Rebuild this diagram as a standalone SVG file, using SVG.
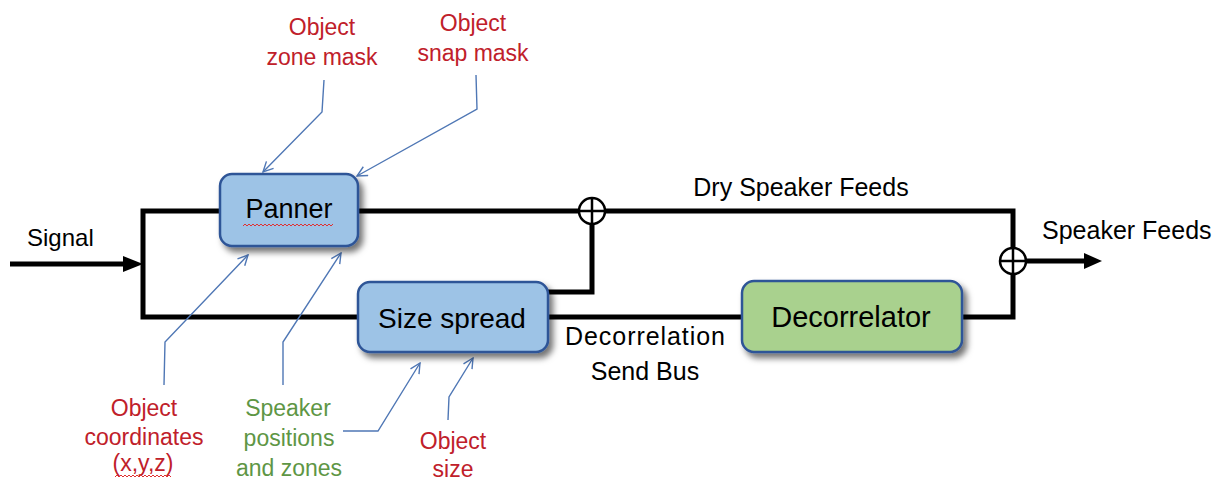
<svg xmlns="http://www.w3.org/2000/svg" width="1222" height="482" viewBox="0 0 1222 482">
<defs>
<style>
.wire{fill:none;stroke:#000;stroke-width:5;stroke-linejoin:miter;stroke-linecap:butt}
.call{fill:none;stroke:#4F77B5;stroke-width:1.4}
.box{stroke:#2F5597;stroke-width:2.5}
.blue{fill:#9DC3E6}
.green{fill:#A9D18E}
.t{font-family:"Liberation Sans",Arial,sans-serif;fill:#000}
.red{font-family:"Liberation Sans",Arial,sans-serif;fill:#C0202A;font-size:23px;text-anchor:middle}
.grn{font-family:"Liberation Sans",Arial,sans-serif;fill:#5E9645;font-size:23px;text-anchor:middle}
.sum{fill:#fff;stroke:#000;stroke-width:2.5}
.cross{stroke:#000;stroke-width:2.5}
.squig{fill:none;stroke:#E03030;stroke-width:1}
</style>
<filter id="sh" x="-20%" y="-20%" width="150%" height="160%">
<feDropShadow dx="4" dy="5" stdDeviation="3" flood-color="#000" flood-opacity="0.55"/>
</filter>
<marker id="oa" viewBox="0 0 12 12" refX="11" refY="6" markerWidth="12" markerHeight="12" markerUnits="userSpaceOnUse" orient="auto">
<path d="M1,1 L11,6 L1,11" fill="none" stroke="#4F77B5" stroke-width="1.4"/>
</marker>
</defs>

<g id="connectors">
<line class="wire" x1="10" y1="264" x2="126" y2="264"/>
<polygon points="143,264 123,256 123,272" fill="#000"/>
<path class="wire" d="M220,211 H143 V317 H358"/>
<path class="wire" d="M358,211 H1013 V317 H962"/>
<path class="wire" d="M548,292 H592 V211"/>
<path class="wire" d="M548,317 H742"/>
<line class="wire" x1="1013" y1="261" x2="1087" y2="261"/>
<polygon points="1102,261 1084,253 1084,269" fill="#000"/>
<g id="sum1">
<circle class="sum" cx="592" cy="211" r="13"/>
<line class="cross" x1="579" y1="211" x2="605" y2="211"/>
<line class="cross" x1="592" y1="198" x2="592" y2="224"/>
</g>
<g id="sum2">
<circle class="sum" cx="1013" cy="261" r="13"/>
<line class="cross" x1="1000" y1="261" x2="1026" y2="261"/>
<line class="cross" x1="1013" y1="248" x2="1013" y2="274"/>
</g>
<path class="call" marker-end="url(#oa)" d="M324,80 L322,112 L263,172"/>
<path class="call" marker-end="url(#oa)" d="M476,75 L477,109 L357,176"/>
<path class="call" marker-end="url(#oa)" d="M164,385 L165,342 L248,255"/>
<path class="call" marker-end="url(#oa)" d="M283,385 L283,342 L341,253"/>
<path class="call" marker-end="url(#oa)" d="M343,431 L378,431 L420,363"/>
<path class="call" marker-end="url(#oa)" d="M448,420 L449,397 L473,358"/>
</g>

<g id="panner">
<rect class="box blue" x="220" y="174" width="138" height="72" rx="12" filter="url(#sh)"/>
<text class="t" x="289" y="218" font-size="27" text-anchor="middle">Panner</text>
<path class="squig" d="M243,226 l2,-2 l2,2 l2,-2 l2,2 l2,-2 l2,2 l2,-2 l2,2 l2,-2 l2,2 l2,-2 l2,2 l2,-2 l2,2 l2,-2 l2,2 l2,-2 l2,2 l2,-2 l2,2 l2,-2 l2,2 l2,-2 l2,2 l2,-2 l2,2 l2,-2 l2,2 l2,-2 l2,2 l2,-2 l2,2 l2,-2 l2,2 l2,-2 l2,2 l2,-2 l2,2 l2,-2 l2,2 l2,-2 l2,2 l2,-2 l2,2 l2,-2"/>
</g>

<g id="size-spread">
<rect class="box blue" x="358" y="282" width="190" height="70" rx="12" filter="url(#sh)"/>
<text class="t" x="452" y="328" font-size="28" text-anchor="middle">Size spread</text>
</g>

<g id="decorrelator">
<rect class="box green" x="742" y="281" width="220" height="71" rx="12" filter="url(#sh)"/>
<text class="t" x="851" y="327" font-size="29" text-anchor="middle">Decorrelator</text>
</g>

<g id="labels">
<text class="t" x="27" y="246" font-size="24">Signal</text>
<text class="t" x="801" y="196" font-size="25" text-anchor="middle">Dry Speaker Feeds</text>
<text class="t" x="1042" y="239" font-size="25">Speaker Feeds</text>
<text class="t" x="645" y="345" font-size="25" text-anchor="middle" textLength="160">Decorrelation</text>
<text class="t" x="645" y="380" font-size="25" text-anchor="middle">Send Bus</text>
</g>

<g id="label-zone-mask">
<text class="red" x="322" y="35">Object</text>
<text class="red" x="322" y="65">zone mask</text>
</g>
<g id="label-snap-mask">
<text class="red" x="473" y="31">Object</text>
<text class="red" x="473" y="61">snap mask</text>
</g>
<g id="label-coordinates">
<text class="red" x="144" y="416">Object</text>
<text class="red" x="144" y="445">coordinates</text>
<text class="red" x="143" y="471">(x,y,z)</text>
<path class="squig" d="M115,477 l2,-2 l2,2 l2,-2 l2,2 l2,-2 l2,2 l2,-2 l2,2 l2,-2 l2,2 l2,-2 l2,2 l2,-2 l2,2 l2,-2 l2,2 l2,-2 l2,2 l2,-2 l2,2 l2,-2 l2,2 l2,-2 l2,2 l2,-2 l2,2 l2,-2 l2,2"/>
</g>
<g id="label-speaker-positions">
<text class="grn" x="288" y="416">Speaker</text>
<text class="grn" x="289" y="446">positions</text>
<text class="grn" x="289" y="476">and zones</text>
</g>
<g id="label-object-size">
<text class="red" x="453" y="449">Object</text>
<text class="red" x="453" y="477">size</text>
</g>
</svg>
